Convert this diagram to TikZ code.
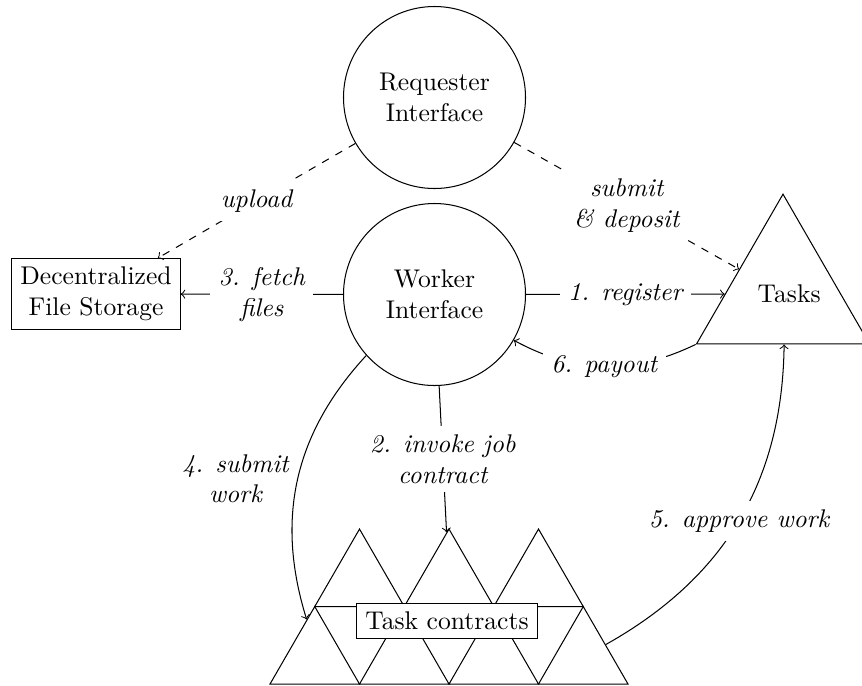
\documentclass[tikz,border=0pt]{standalone}
\usetikzlibrary{shapes.geometric}
\begin{document}
\begin{tikzpicture}[x=0.390625pt,y=-0.390625pt,>=to,
  ball/.style={circle,draw,minimum size=71.1pt,inner sep=0pt,align=center},
  box/.style={rectangle,draw,align=center,fill=white},
  tri/.style={regular polygon,regular polygon sides=3,draw,inner sep=0pt,minimum size=#1},
  lbl/.style={fill=white,font=\itshape,align=center},
  sidelbl/.style={font=\itshape,align=center}]
\useasboundingbox (0,0) rectangle (862,685);
% main nodes
\node[ball] (req) at (434.5,97.5) {Requester\\Interface};
\node[ball] (work) at (434.5,294.5) {Worker\\Interface};
\node[box] (dfs) at (96,294) {Decentralized\\File Storage};
\node[tri=78pt] (tasks) at (783,294) {\kern2.4pt Tasks\kern-2.4pt};
% task contract triangles
\node[tri=40.36pt] (tb1) at (314.75,658.2) {};
\node[tri=40.36pt] (tb2) at (404.25,658.2) {};
\node[tri=40.36pt] (tb3) at (493.75,658.2) {};
\node[tri=40.36pt] (tb4) at (583.25,658.2) {};
\node[tri=40.36pt] (tt1) at (359.5,580.7) {};
\node[tri=40.36pt] (tt2) at (449,580.7) {};
\node[tri=40.36pt] (tt3) at (538.5,580.7) {};
\node[box] (tc) at (447,621) {Task contracts};
% connectors
\draw[dashed,->] (req) -- node[lbl] {upload} (dfs);
\draw[dashed,->] (req) -- node[lbl] {submit\\\& deposit} (tasks);
\draw[->] (work) -- node[lbl] {1. register} (tasks);
\draw[->] (tasks.corner 2) to[bend left=27] node[lbl] {6. payout} (work.-30);
\draw[->] (work) -- node[lbl] {3. fetch\\files} (dfs);
\draw[->] (work) -- node[lbl] {2. invoke job\\contract} (tt2);
\draw[->] (work) to[bend right=30] node[sidelbl,left] {4. submit\\work} (tb1);
\draw[->] (tb4) to[bend right=30] node[lbl] {5. approve work} (tasks);
\end{tikzpicture}
\end{document}
